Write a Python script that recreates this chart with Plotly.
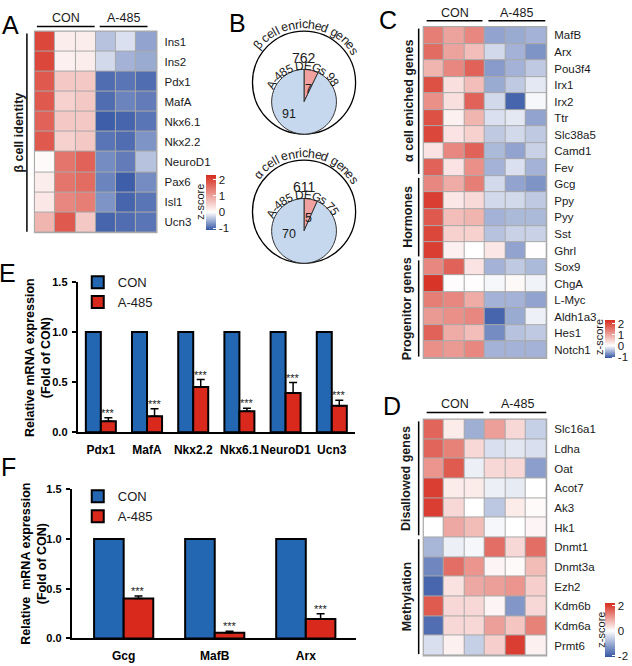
import numpy as np
import plotly.graph_objects as go

W, H = 632, 666
FONT = "Arial, Liberation Sans, Helvetica, sans-serif"


def px(x):
    return x / W


def py(y):
    return 1 - y / H


# ---------------- data ----------------
samples = ["CON-1", "CON-2", "CON-3", "A485-1", "A485-2", "A485-3"]

genes_A = ["Ins1", "Ins2", "Pdx1", "MafA", "Nkx6.1", "Nkx2.2", "NeuroD1", "Pax6", "Isl1", "Ucn3"]
z_A = [
    [2.0, 0.20, 0.20, -0.40, -0.20, -0.60],
    [2.0, 0.15, 0.20, -0.25, -0.50, -0.55],
    [1.8, 0.60, 0.60, -0.95, -0.90, -0.95],
    [1.8, 0.50, 0.60, -0.95, -0.80, -0.85],
    [1.7, 0.60, 0.60, -1.05, -1.00, -0.90],
    [1.8, 0.50, 0.60, -0.90, -0.95, -0.70],
    [0.05, 1.50, 1.70, -0.75, -0.85, -0.40],
    [0.20, 1.50, 1.60, -0.80, -1.05, -0.75],
    [0.25, 1.30, 1.40, -0.70, -1.00, -0.90],
    [0.80, 1.80, 0.60, -1.00, -0.95, -0.90],
]

genes_C = ["MafB", "Arx", "Pou3f4", "Irx1", "Irx2", "Ttr", "Slc38a5", "Camd1", "Fev",
           "Gcg", "Ppy", "Pyy", "Sst", "Ghrl",
           "Sox9", "ChgA", "L-Myc", "Aldh1a3", "Hes1", "Notch1"]
z_C = [
    [1.4, 1.0, 1.3, -0.60, -0.55, -0.50],
    [1.6, 1.0, 0.7, -0.25, -0.50, -0.70],
    [0.8, 1.3, 1.7, -0.65, -0.50, -0.35],
    [1.9, 0.35, 0.7, -0.55, -0.35, -0.15],
    [1.2, 0.35, 1.7, -0.25, -1.00, -0.05],
    [1.9, 0.15, 0.8, -0.20, -0.15, -0.60],
    [2.0, 0.30, 0.5, -0.35, -0.25, -0.35],
    [0.3, 1.3, 1.7, -0.45, -0.60, -0.30],
    [1.7, 0.30, 1.2, -0.50, -0.20, -0.50],
    [1.3, 0.9, 1.4, -0.25, -0.60, -0.70],
    [2.1, 0.25, 0.4, -0.25, -0.25, -0.35],
    [1.8, 0.7, 0.8, -0.50, -0.45, -0.45],
    [2.0, 0.5, 0.5, -0.40, -0.30, -0.30],
    [2.1, 0.15, 0.0, 0.25, -0.60, 0.02],
    [1.3, 1.7, 0.3, -0.50, -0.35, -0.45],
    [2.2, 0.03, 0.02, -0.05, 0.06, -0.08],
    [1.4, 1.3, 0.9, -0.50, -0.50, -0.60],
    [1.1, 1.2, 1.3, -1.00, -0.55, -0.10],
    [1.7, 0.9, 0.7, -0.75, -0.40, -0.35],
    [1.2, 1.1, 1.3, -0.50, -0.50, -0.50],
]

genes_D = ["Slc16a1", "Ldha", "Oat", "Acot7", "Ak3", "Hk1",
           "Dnmt1", "Dnmt3a", "Ezh2", "Kdm6b", "Kdm6a", "Prmt6"]
z_D = [
    [1.6, 0.2, -1.0, 1.0, 0.4, -0.6],
    [1.6, 1.3, 0.4, -0.4, -0.3, -0.4],
    [1.1, 1.7, -0.2, 0.4, 0.4, -1.2],
    [2.0, 0.2, 0.2, -0.2, -0.25, 0.0],
    [2.0, 0.4, 0.0, -0.7, 0.2, 0.05],
    [0.0, 0.9, 0.7, -0.1, 0.0, 0.1],
    [-0.9, -0.2, -0.1, 1.5, 0.4, 1.5],
    [-1.5, 1.5, 1.1, 0.1, 0.05, 0.7],
    [-1.9, 0.3, 0.9, 1.0, 1.1, 0.5],
    [1.7, 0.4, 0.4, 0.1, -1.3, 0.4],
    [-1.8, 0.4, 0.4, 1.0, 0.6, 1.3],
    [-0.4, 0.15, -0.6, 0.5, 2.0, 0.15],
]

# Venn (pie) data
beta_enriched = 762
beta_degs_total = 98
beta_overlap = 7
beta_degs_other = 91
alpha_enriched = 611
alpha_degs_total = 75
alpha_overlap = 5
alpha_degs_other = 70

# qPCR bars
genes_E = ["Pdx1", "MafA", "Nkx2.2", "Nkx6.1", "NeuroD1", "Ucn3"]
con_E = [1, 1, 1, 1, 1, 1]
a485_E = [0.11, 0.16, 0.45, 0.21, 0.39, 0.265]
err_E = [0.035, 0.075, 0.075, 0.03, 0.105, 0.055]

genes_F = ["Gcg", "MafB", "Arx"]
con_F = [1, 1, 1]
a485_F = [0.40, 0.058, 0.195]
err_F = [0.027, 0.015, 0.052]

# ---------------- styles ----------------
HM_BLUE = "#3556a5"
HM_RED = "#d62b1d"
GRID = "#a9a9a9"
BAR_BLUE = "#2367b2"
BAR_RED = "#d9291c"
TXT = "#1a1a1a"
BARGAP = 0.35


def cscale(zmin, zmax):
    f = -zmin / (zmax - zmin)
    return [[0, HM_BLUE], [f, "#ffffff"], [1, HM_RED]]


fig = go.Figure()


def colorbar(x0, y0, length, tickvals):
    return dict(x=px(x0), xanchor="left", y=py(y0), yanchor="top",
                len=length, lenmode="pixels", thickness=10, thicknessmode="pixels",
                outlinewidth=0, xpad=0, ypad=0, tickvals=tickvals,
                ticktext=[str(t) for t in tickvals],
                ticks="inside", ticklen=3, tickwidth=1.2, tickcolor="white",
                tickfont=dict(family=FONT, size=11.5, color=TXT))


fig.add_trace(go.Heatmap(z=z_A, x=samples, y=genes_A, xaxis="x", yaxis="y",
                         colorscale=cscale(-1.1, 2.3), zmin=-1.1, zmax=2.3,
                         xgap=1, ygap=1, colorbar=colorbar(207, 172, 55, [-1, 0, 1, 2])))
fig.add_trace(go.Heatmap(z=z_C, x=samples, y=genes_C, xaxis="x2", yaxis="y2",
                         colorscale=cscale(-1.1, 2.3), zmin=-1.1, zmax=2.3,
                         xgap=1, ygap=1, colorbar=colorbar(607, 320, 38, [-1, 0, 1, 2])))
fig.add_trace(go.Heatmap(z=z_D, x=samples, y=genes_D, xaxis="x3", yaxis="y3",
                         colorscale=cscale(-2.1, 2.2), zmin=-2.1, zmax=2.2,
                         xgap=1, ygap=1, colorbar=colorbar(607, 608, 54, [-2, 0, 2])))

# ---------------- Venn diagrams as pies ----------------
venns = [
    dict(cx=305, cy=78, R=52.5, r=33, enriched=beta_enriched, total=beta_degs_total,
         ov=beta_overlap, other=beta_degs_other, title="β cell enriched genes"),
    dict(cx=305, cy=209.5, R=52.5, r=33, enriched=alpha_enriched, total=alpha_degs_total,
         ov=alpha_overlap, other=alpha_degs_other, title="α cell enriched genes"),
]
for v in venns:
    cx, cy, R, r = v["cx"], v["cy"], v["R"], v["r"]
    icy = cy + R - r
    fig.add_trace(go.Pie(values=[v["enriched"]], labels=["enriched"], sort=False,
                         domain=dict(x=[px(cx - R), px(cx + R)], y=[py(cy + R), py(cy - R)]),
                         marker=dict(colors=["white"], line=dict(color="black", width=1.3)),
                         textinfo="none", hoverinfo="skip", showlegend=False))
    fig.add_trace(go.Pie(values=[v["ov"], v["other"]], labels=["overlap", "other"], sort=False,
                         direction="clockwise", rotation=0,
                         domain=dict(x=[px(cx - r), px(cx + r)], y=[py(icy + r), py(icy - r)]),
                         marker=dict(colors=["#f2a1a1", "#c6d8ee"], line=dict(color="#333333", width=1)),
                         textinfo="none", hoverinfo="skip", showlegend=False))

# ---------------- bars ----------------
def add_bars(genes, con, a485, err, xa, ya, leg):
    fig.add_trace(go.Bar(x=genes, y=con, name="CON", xaxis=xa, yaxis=ya, legend=leg,
                         marker=dict(color=BAR_BLUE, line=dict(color="black", width=2))))
    fig.add_trace(go.Bar(x=genes, y=a485, name="A-485", xaxis=xa, yaxis=ya, legend=leg,
                         marker=dict(color=BAR_RED, line=dict(color="black", width=2)),
                         error_y=dict(type="data", array=err, arrayminus=[0] * len(err),
                                      symmetric=False, color="black", thickness=1.5, width=4)))


add_bars(genes_E, con_E, a485_E, err_E, "x4", "y4", "legend")
add_bars(genes_F, con_F, a485_F, err_F, "x5", "y5", "legend2")

annotations = []
shapes = []

# stars
red_off = (1 - BARGAP) / 4
for genes, vals, errs, xr, yr in [(genes_E, a485_E, err_E, "x4", "y4"),
                                  (genes_F, a485_F, err_F, "x5", "y5")]:
    for i, (vv, ee) in enumerate(zip(vals, errs)):
        annotations.append(dict(x=i + red_off, y=vv + ee, xref=xr, yref=yr, text="***",
                                showarrow=False, yanchor="bottom", yshift=-3,
                                font=dict(family=FONT, size=11, color=TXT)))

# ---------------- arc text ----------------
CW = {" ": .278, "a": .556, "c": .5, "d": .556, "e": .556, "g": .556, "h": .556, "i": .222,
      "l": .222, "n": .556, "r": .333, "s": .5, "A": .667, "-": .333, "D": .722, "E": .667,
      "G": .778, "β": .57, "α": .6}


def arc_text(text, cx, cy, R, center_deg, size):
    widths = [CW.get(c, .556) * size for c in text]
    span = sum(widths) / R
    start = np.radians(center_deg) + span / 2
    s = 0.0
    for c, w in zip(text, widths):
        th = start - (s + w / 2) / R
        s += w
        if c == " ":
            continue
        annotations.append(dict(x=px(cx + R * np.cos(th)), y=py(cy - R * np.sin(th)),
                                xref="paper", yref="paper", text=c, showarrow=False,
                                textangle=90 - np.degrees(th), xanchor="center", yanchor="middle",
                                font=dict(family=FONT, size=size, color=TXT)))


for v in venns:
    cx, cy, R, r = v["cx"], v["cy"], v["R"], v["r"]
    icy = cy + R - r
    arc_text(v["title"], cx, cy, R + 7, 87, 12.5)
    arc_text("A-485 DEGs %d" % v["total"], cx, icy, r + 3.5, 93, 12)
    annotations.append(dict(x=px(cx), y=py(cy - 35), xref="paper", yref="paper",
                            text=str(v["enriched"]), showarrow=False,
                            font=dict(family=FONT, size=14, color=TXT)))
    annotations.append(dict(x=px(cx + 4.5), y=py(icy - 22.5), xref="paper", yref="paper",
                            text=str(v["ov"]), showarrow=False,
                            font=dict(family=FONT, size=12.5, color=TXT)))
    annotations.append(dict(x=px(cx - 15), y=py(icy + 3), xref="paper", yref="paper",
                            text=str(v["other"]), showarrow=False,
                            font=dict(family=FONT, size=12.5, color=TXT)))

# ---------------- decorations ----------------
def text_ann(x, y, text, size=12.5, bold=False, angle=0, anchor="center", color=TXT):
    annotations.append(dict(x=px(x), y=py(y), xref="paper", yref="paper", text=text,
                            showarrow=False, textangle=angle, xanchor=anchor, yanchor="middle",
                            font=dict(family=FONT, size=size, color=color,
                                      weight="bold" if bold else "normal")))


def line(x0, y0, x1, y1, w=1.5):
    shapes.append(dict(type="line", xref="paper", yref="paper", x0=px(x0), y0=py(y0),
                       x1=px(x1), y1=py(y1), line=dict(color="black", width=w)))


# headers
for (cx0, cx1, ax0, ax1, ly, ty) in [(37, 95, 100, 148, 21, 12),
                                     (428, 484, 490, 547, 15, 7),
                                     (428, 485, 491, 548, 414, 405)]:
    line(cx0, ly, cx1, ly)
    line(ax0, ly, ax1, ly)
    text_ann((cx0 + cx1) / 2, ty, "CON")
    text_ann((ax0 + ax1) / 2, ty, "A-485")

# group brackets
groups = [(27, 28, 230, 19, "β cell identity"),
          (420, 23, 171, 411, "α cell eniched genes"),
          (420, 175, 255, 409, "Hormones"),
          (420, 259, 357, 409, "Progenitor genes"),
          (420, 423, 539, 408, "Disallowed genes"),
          (420, 543, 660, 408, "Methylation")]
for (lx, y0, y1, tx, t) in groups:
    line(lx, y0, lx, y1)
    text_ann(tx, (y0 + y1) / 2, t, size=12.5, bold=True, angle=-90)

# z-score labels
for (x, y) in [(201, 199), (601, 337), (602, 635)]:
    text_ann(x, y, "z-score", size=11, angle=-90)

# bar-chart y titles
text_ann(37.5, 358, "Relative mRNA expression<br>(Fold of CON)", size=12.5, bold=True,
         angle=-90, color="black")
text_ann(34, 568, "Relative  mRNA expression<br>(Fold of CON)", size=12.5, bold=True,
         angle=-90, color="black")

# panel letters
for (x, y, t) in [(11, 19, "A"), (238, 17, "B"), (389, 14, "C"), (393, 407, "D"),
                  (8, 272, "E"), (9, 469, "F")]:
    text_ann(x, y, t, size=25, color="black")

# grey grid backgrounds for heatmaps
for xr, yr in [("x", "y"), ("x2", "y2"), ("x3", "y3")]:
    shapes.append(dict(type="rect", xref=xr + " domain", yref=yr + " domain", x0=0, x1=1, y0=0, y1=1,
                       fillcolor=GRID, line=dict(color=GRID, width=2), layer="below"))

# ---------------- axes ----------------
def hm_axes(xd, yd):
    xa = dict(domain=[px(xd[0]), px(xd[1])], showticklabels=False, ticks="", showgrid=False,
              zeroline=False, showline=False, fixedrange=True)
    ya = dict(domain=[py(yd[1]), py(yd[0])], side="right", ticks="", showgrid=False,
              zeroline=False, showline=False, autorange="reversed", ticklabelstandoff=7,
              tickfont=dict(family=FONT, size=11.5, color=TXT), fixedrange=True)
    return xa, ya


xa1, ya1 = hm_axes((35, 157), (26, 230.5))
xa2, ya2 = hm_axes((425, 548), (21.5, 358.5))
xa3, ya3 = hm_axes((425, 548), (421, 661.5))
ya1["anchor"] = "x"
xa1["anchor"] = "y"
ya2["anchor"] = "x2"
xa2["anchor"] = "y2"
ya3["anchor"] = "x3"
xa3["anchor"] = "y3"

BOLD12 = dict(family=FONT, size=12, color="black", weight="bold")
BOLD11 = dict(family=FONT, size=11, color="black", weight="bold")


def bar_axes(xd, yd, xrange, anchor_x, anchor_y):
    xa = dict(domain=[px(xd[0]), px(xd[1])], anchor=anchor_y, type="category", range=xrange,
              showline=True, linecolor="black", linewidth=2, ticks="", showgrid=False,
              zeroline=False, tickfont=BOLD12, tickangle=0, ticklabelstandoff=5, fixedrange=True)
    ya = dict(domain=[py(yd[1]), py(yd[0])], anchor=anchor_x, range=[0, 1.5],
              showline=True, linecolor="black", linewidth=2, ticks="outside", ticklen=4,
              tickwidth=2, tickcolor="black", tickvals=[0, 0.5, 1.0, 1.5], tickformat=".1f",
              showgrid=False, zeroline=False, tickfont=BOLD11, ticklabelstandoff=2,
              fixedrange=True)
    return xa, ya


xa4, ya4 = bar_axes((78, 356), (281, 434), [-0.5, 5.5], "x4", "y4")
xa5, ya5 = bar_axes((72, 357), (492, 644), [-0.57, 2.55], "x5", "y5")

leg_style = dict(xanchor="left", yanchor="top", bgcolor="rgba(0,0,0,0)",
                 font=dict(family=FONT, size=13, color=TXT), itemwidth=30, tracegroupgap=0)

fig.update_layout(
    width=W, height=H, autosize=False,
    margin=dict(l=0, r=0, t=0, b=0),
    paper_bgcolor="white", plot_bgcolor="white",
    font=dict(family=FONT, color=TXT),
    barmode="group", bargap=BARGAP, bargroupgap=0,
    xaxis=xa1, yaxis=ya1, xaxis2=xa2, yaxis2=ya2, xaxis3=xa3, yaxis3=ya3,
    xaxis4=xa4, yaxis4=ya4, xaxis5=xa5, yaxis5=ya5,
    legend=dict(x=px(78), y=py(266), **leg_style),
    legend2=dict(x=px(78), y=py(484), **leg_style),
    annotations=annotations, shapes=shapes,
)

fig.write_html("out.html", config={"displayModeBar": False},
               post_script="document.body.style.margin='0px';")
